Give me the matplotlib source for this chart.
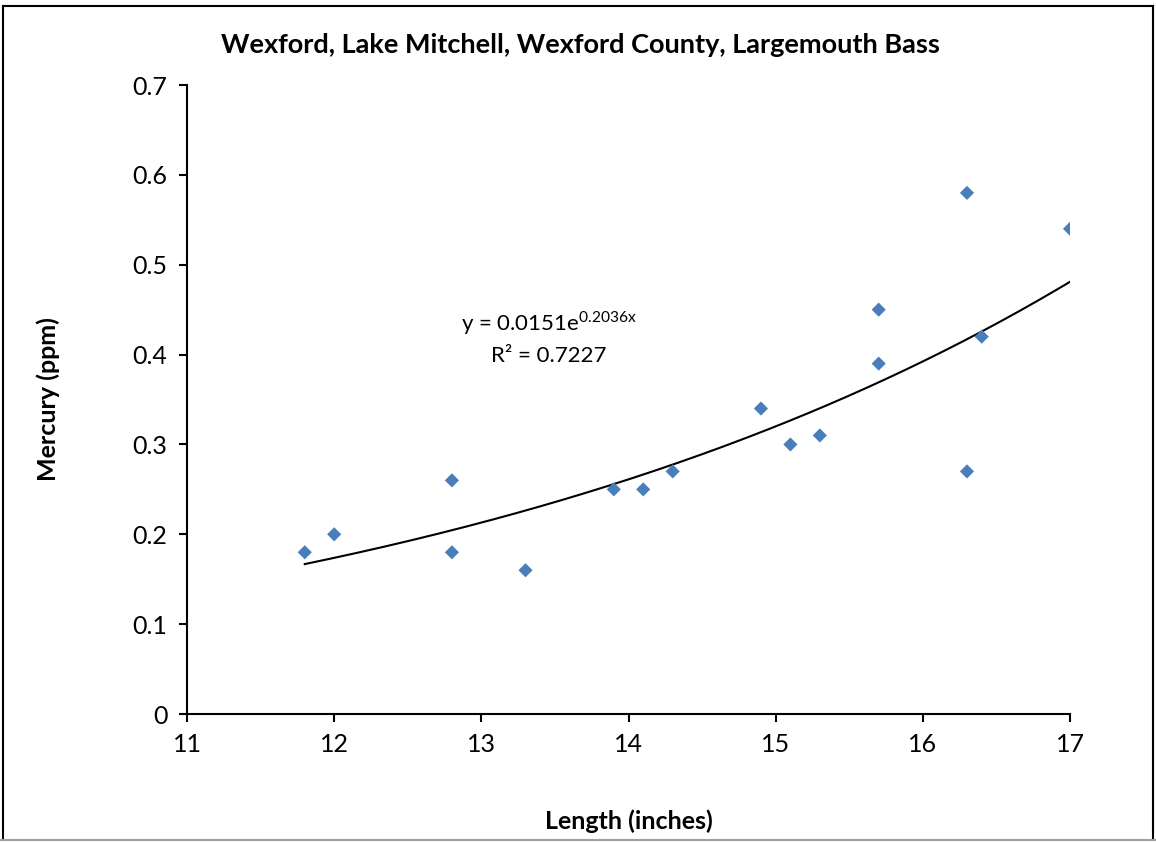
import numpy as np
import matplotlib
matplotlib.use("Agg")
import matplotlib.pyplot as plt
from matplotlib.lines import Line2D

plt.rcParams["font.family"] = ["Lato", "DejaVu Sans"]
plt.rcParams["mathtext.fontset"] = "custom"
plt.rcParams["mathtext.rm"] = "Lato"

# data
length_in = [11.8, 12.0, 12.8, 12.8, 13.3, 13.9, 14.1, 14.3, 14.9,
             15.1, 15.3, 15.7, 15.7, 16.3, 16.3, 16.4, 17.0]
mercury_ppm = [0.18, 0.20, 0.26, 0.18, 0.16, 0.25, 0.25, 0.27, 0.34,
               0.30, 0.31, 0.45, 0.39, 0.58, 0.27, 0.42, 0.54]

# exponential trendline (Excel)
fit_a = 0.0151
fit_b = 0.2036
r2 = 0.7227

title = "Wexford, Lake Mitchell, Wexford County, Largemouth Bass"
x_ticks = [11, 12, 13, 14, 15, 16, 17]
y_ticks = [0, 0.1, 0.2, 0.3, 0.4, 0.5, 0.6, 0.7]

fig = plt.figure(figsize=(11.56, 8.42), dpi=100)
ax = fig.add_axes([0.1618, 0.152, 0.7638, 0.747])

ax.scatter(length_in, mercury_ppm, marker="D", s=52, color="#4A7EBB",
           edgecolors="none", zorder=3)

xs = np.linspace(min(length_in), max(length_in), 200)
ax.plot(xs, fit_a * np.exp(fit_b * xs), color="black", lw=1.5, zorder=2)

ax.text(13.46, 0.435, f"y = {fit_a}e$^{{\\mathrm{{{fit_b}x}}}}$", ha="center",
        va="center", fontsize=16)
ax.text(13.46, 0.399, f"R² = {r2}", ha="center", va="center", fontsize=16)

ax.set_xlim(11, 17)
ax.set_ylim(0, 0.7)
ax.set_xticks(x_ticks)
ax.set_yticks(y_ticks)
ax.set_yticklabels(["0" if v == 0 else f"{v:g}" for v in y_ticks])
ax.tick_params(direction="out", length=6, width=1.5, labelsize=18, pad=8)
for s in ["top", "right"]:
    ax.spines[s].set_visible(False)
for s in ["left", "bottom"]:
    ax.spines[s].set_linewidth(1.5)

ax.set_xlabel("Length (inches)", fontsize=18, fontweight="bold", labelpad=38)
ax.set_ylabel("Mercury (ppm)", fontsize=18, fontweight="bold", labelpad=52)
fig.text(0.502, 0.946, title, ha="center", va="center", fontsize=19.5,
         fontweight="bold")

# outer frame
fig.add_artist(Line2D([0.003, 0.003], [0.003, 0.993], color="black", lw=1.5,
                      transform=fig.transFigure))
fig.add_artist(Line2D([0.003, 0.9975], [0.993, 0.993], color="black", lw=1.5,
                      transform=fig.transFigure))
fig.add_artist(Line2D([0.9975, 0.9975], [0.003, 0.993], color="black", lw=1.5,
                      transform=fig.transFigure))
fig.add_artist(Line2D([0.0, 1.0], [0.002, 0.002], color="#A0A0A0", lw=1.5,
                      transform=fig.transFigure))

fig.savefig("out.png", dpi=100, facecolor="white")
